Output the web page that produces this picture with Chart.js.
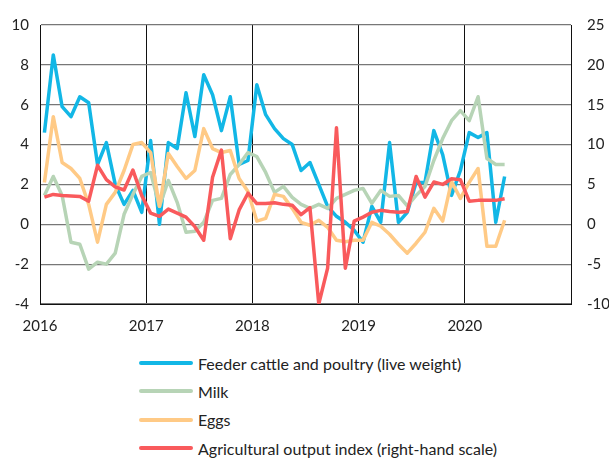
<!DOCTYPE html>
<html>
<head>
<meta charset="utf-8">
<script src="https://cdn.jsdelivr.net/npm/chart.js@4/dist/chart.umd.min.js"></script>
<style>
  html, body { margin: 0; padding: 0; background: #fff; }
  #wrap { position: relative; width: 609px; height: 462px; font-family: Lato, "Open Sans", sans-serif; }
  #box { position: absolute; left: 0; top: 0; width: 609px; height: 345px; }
  #legend { position: absolute; left: 139px; top: 349px; }
  .item { height: 28.3px; display: flex; align-items: center; font-size: 16px; color: #222; }
  .swatch { width: 54px; height: 4px; border-radius: 2px; margin-right: 5px; }
</style>
</head>
<body>
<div id="wrap">
  <div id="box"><canvas id="c"></canvas></div>
  <div id="legend"></div>
</div>
<script>
// Tick labels for the x axis (one per year, placed at the start of each year)
const years = ["2016", "2017", "2018", "2019", "2020"];
// Monthly observations, Jan 2016 .. May 2020
const feederCattle = [4.6, 8.5, 5.9, 5.4, 6.4, 6.1, 3.0, 4.1, 2.0, 1.0, 1.7, 0.6,
  4.2, 0.0, 4.1, 3.8, 6.6, 4.4, 7.5, 6.5, 4.7, 6.4, 3.0, 3.2,
  7.0, 5.5, 4.8, 4.3, 4.0, 2.7, 3.1, 2.0, 0.9, 0.4, 0.1, -0.3,
  -0.9, 0.9, 0.1, 4.1, 0.1, 0.6, 2.1, 2.1, 4.7, 3.5, 1.45, 2.7,
  4.6, 4.35, 4.6, 0.1, 2.4];
const milk = [1.45, 2.4, 1.45, -0.9, -1.0, -2.25, -1.9, -2.0, -1.45, 0.5, 1.5, 2.4,
  2.6, 0.9, 2.2, 1.1, -0.4, -0.35, 0.1, 1.2, 1.3, 2.5, 3.0, 3.6,
  3.4, 2.6, 1.6, 1.9, 1.35, 1.0, 0.8, 1.0, 0.8, 1.3, 1.5, 1.7,
  1.8, 1.05, 1.7, 1.4, 1.45, 0.92, 1.45, 1.9, 3.2, 4.3, 5.2, 5.7,
  5.2, 6.4, 3.3, 3.0, 3.0];
const eggs = [2.1, 5.4, 3.1, 2.8, 2.3, 1.0, -0.9, 1.0, 1.6, 2.7, 4.0, 4.1,
  3.6, 0.9, 3.55, 2.9, 2.3, 2.7, 4.8, 3.8, 3.6, 3.7, 2.3, 1.65,
  0.16, 0.3, 1.5, 1.4, 0.8, 0.1, -0.05, 0.2, -0.15, -0.8, -0.88, -0.8,
  -0.8, 0.1, -0.1, -0.5, -1.0, -1.45, -0.95, -0.4, 0.8, 0.16, 2.15, 1.3,
  2.1, 2.8, -1.1, -1.1, 0.2];
const agriOutput = [3.4, 3.75, 3.6, 3.55, 3.5, 2.9, 7.4, 5.6, 4.7, 4.3, 6.8, 3.6,
  1.4, 1.0, 1.9, 1.4, 0.9, -0.3, -2.0, 5.9, 9.3, -1.8, 1.8, 3.9,
  2.6, 2.6, 2.7, 2.5, 2.4, 1.2, 2.1, -10.0, -5.5, 12.1, -5.5, 0.4,
  0.9, 1.5, 1.75, 1.6, 1.5, 1.6, 6.0, 3.4, 5.3, 5.0, 5.7, 5.6,
  2.9, 3.0, 3.0, 3.0, 3.2];

const seriesNames = ["Feeder cattle and poultry (live weight)", "Milk", "Eggs",
  "Agricultural output index (right-hand scale)"];
const seriesColors = ["#12b7e6", "#b7d4b6", "#ffca86", "#f95a5c"];

function pts(arr) { return arr.map((v, i) => ({ x: i + 0.5, y: v })); }

const font = { family: 'Lato, "Open Sans", sans-serif', size: 15 };

const chart = new Chart(document.getElementById('c'), {
  type: 'line',
  data: {
    datasets: [
      { label: seriesNames[0], data: pts(feederCattle), borderColor: seriesColors[0], yAxisID: 'y', order: 3 },
      { label: seriesNames[1], data: pts(milk), borderColor: seriesColors[1], yAxisID: 'y', order: 2 },
      { label: seriesNames[2], data: pts(eggs), borderColor: seriesColors[2], yAxisID: 'y', order: 1 },
      { label: seriesNames[3], data: pts(agriOutput), borderColor: seriesColors[3], yAxisID: 'y2', order: 0 }
    ].map(d => Object.assign(d, { borderWidth: 3.5, pointRadius: 0, tension: 0, fill: false, borderJoinStyle: 'round' }))
  },
  options: {
    responsive: true,
    maintainAspectRatio: false,
    animation: false,
    layout: { padding: { top: 15, left: 0, right: 0, bottom: 0 } },
    plugins: { legend: { display: false }, tooltip: { enabled: false } },
    scales: {
      x: {
        type: 'linear', min: 0, max: 60,
        ticks: { stepSize: 12, color: '#222', font: font, padding: 13, maxRotation: 0,
          callback: (v) => years[v / 12] !== undefined ? years[v / 12] : '' },
        grid: { color: '#111', lineWidth: 1, drawTicks: false },
        border: { display: true, color: '#111', width: 1 },
        afterFit: (s) => { s.height = 41; }
      },
      y: {
        position: 'left', min: -4, max: 10,
        ticks: { stepSize: 2, color: '#222', font: font, padding: 11 },
        grid: { color: '#777', lineWidth: 1.2, drawTicks: false },
        border: { display: true, color: '#111', width: 1 },
        afterFit: (s) => { s.width = 40; }
      },
      y2: {
        position: 'right', min: -10, max: 25,
        ticks: { stepSize: 5, color: '#222', font: font, padding: 16 },
        grid: { display: false, drawTicks: false },
        border: { display: true, color: '#111', width: 1 },
        afterFit: (s) => { s.width = 38; }
      }
    }
  }
});

const legend = document.getElementById('legend');
chart.data.datasets.forEach(d => {
  const row = document.createElement('div');
  row.className = 'item';
  const sw = document.createElement('span');
  sw.className = 'swatch';
  sw.style.background = d.borderColor;
  const tx = document.createElement('span');
  tx.textContent = d.label;
  row.appendChild(sw);
  row.appendChild(tx);
  legend.appendChild(row);
});
</script>
</body>
</html>
